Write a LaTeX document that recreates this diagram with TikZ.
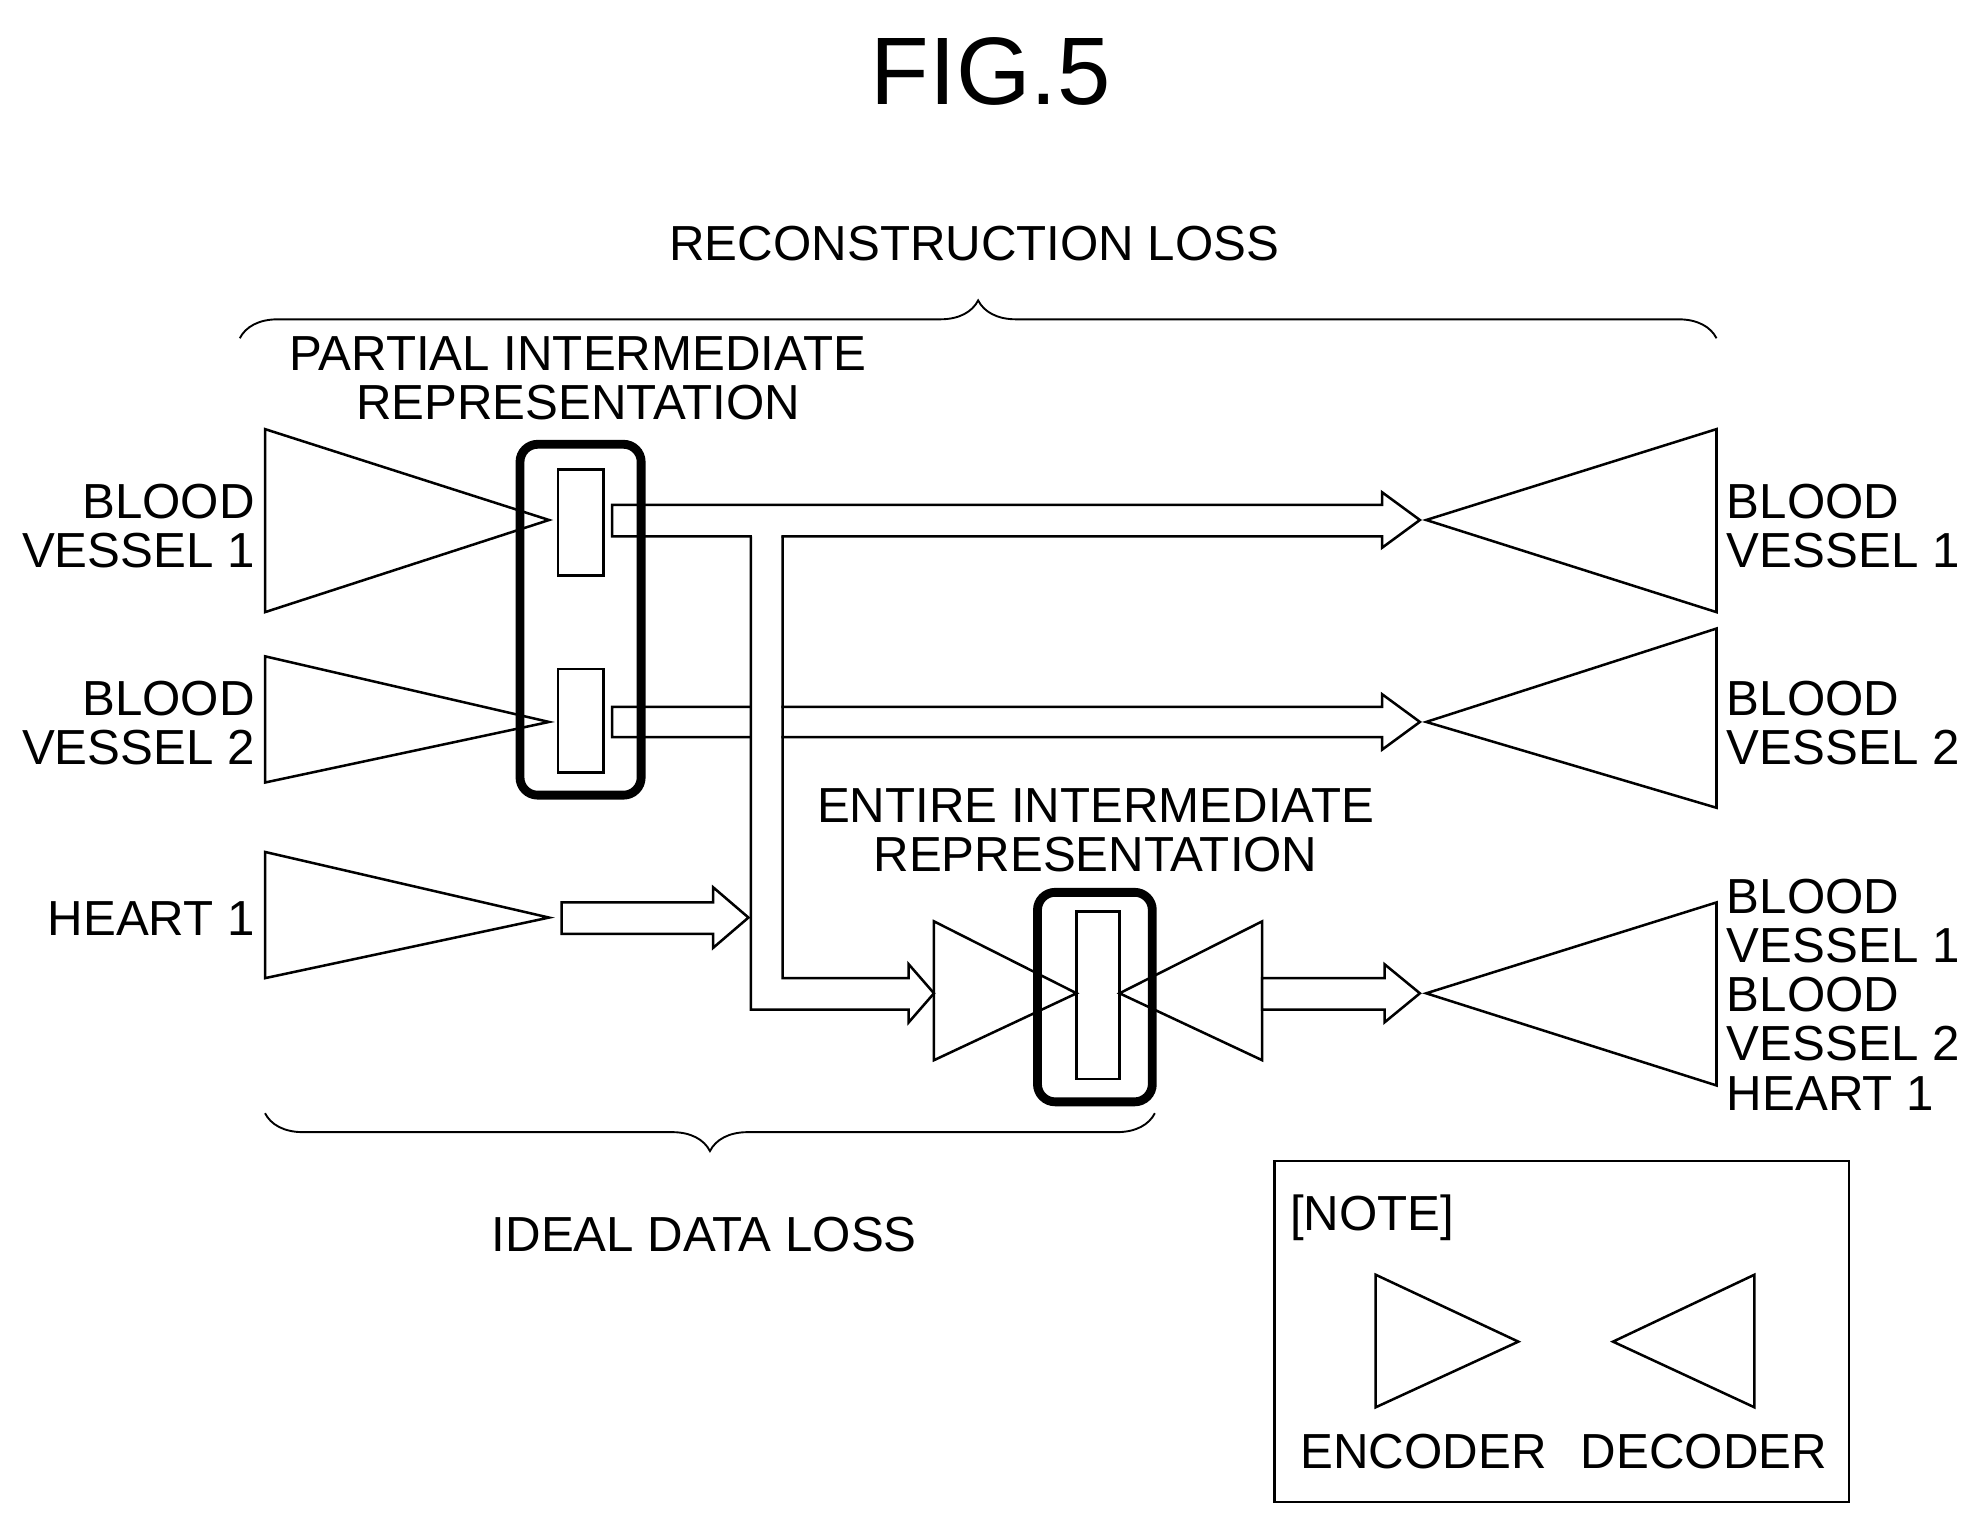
\documentclass[tikz,border=0pt]{standalone}
\usepackage{fontspec}
\setmainfont{Liberation Sans}
\usetikzlibrary{decorations.pathreplacing}
\begin{document}
\begin{tikzpicture}[x=1pt,y=-1pt,
  thin line/.style={line width=2pt,line join=miter},
  thick box/.style={line width=7pt,rounded corners=14pt},
  lbl/.style={font=\fontsize{39}{40}\selectfont,inner sep=0pt},
  brc/.style={line width=1.5pt,decorate,decoration={brace,amplitude=30pt}}]
\useasboundingbox (0,0) rectangle (1568,1208);
\node[font=\fontsize{76}{78}\selectfont] (title) at (785,57) {FIG.5};
% braces
\draw[brc] (190,268) -- (1360,268);
\node[lbl] (rl) at (772,193) {RECONSTRUCTION LOSS};
\draw[brc] (915,882) -- (210,882);
\node[lbl] (idl) at (558,978) {IDEAL DATA LOSS};
\node[lbl,align=center] (pir) at (458,300) {PARTIAL INTERMEDIATE\\[-1pt]REPRESENTATION};
\node[lbl,align=center] (eir) at (868,658) {ENTIRE INTERMEDIATE\\[-1pt]REPRESENTATION};
% left encoders
\draw[thin line] (210,340) -- (435,412) -- (210,485) -- cycle;
\draw[thin line] (210,520) -- (435,572) -- (210,620) -- cycle;
\draw[thin line] (210,675) -- (435,727) -- (210,775) -- cycle;
\node[lbl,align=right,anchor=east] (lbv1) at (202,417) {BLOOD\\[-1pt]VESSEL 1};
\node[lbl,align=right,anchor=east] (lbv2) at (202,573) {BLOOD\\[-1pt]VESSEL 2};
\node[lbl,anchor=east] (lh1) at (202,728) {HEART 1};
% right decoders
\draw[thin line] (1360,340) -- (1130,412) -- (1360,485) -- cycle;
\draw[thin line] (1360,498) -- (1130,572) -- (1360,640) -- cycle;
\draw[thin line] (1360,715) -- (1130,787) -- (1360,860) -- cycle;
\node[lbl,align=left,anchor=west] (rbv1) at (1368,417) {BLOOD\\[-1pt]VESSEL 1};
\node[lbl,align=left,anchor=west] (rbv2) at (1368,573) {BLOOD\\[-1pt]VESSEL 2};
\node[lbl,align=left,anchor=west] (rall) at (1368,788) {BLOOD\\[-1pt]VESSEL 1\\[-1pt]BLOOD\\[-1pt]VESSEL 2\\[-1pt]HEART 1};
% hollow arrows
\draw[thin line,fill=white] (485,400) -- (1095,400) -- (1095,390) -- (1125,412) -- (1095,434) -- (1095,425) -- (485,425) -- cycle;
\draw[thin line,fill=white] (485,560) -- (1095,560) -- (1095,550) -- (1125,572) -- (1095,594) -- (1095,584) -- (485,584) -- cycle;
\draw[thin line,fill=white] (445,715) -- (565,715) -- (565,703) -- (593,727) -- (565,751) -- (565,740) -- (445,740) -- cycle;
\fill[white] (596,423) -- (596,799) -- (720,799) -- (720,776) -- (619,776) -- (619,423) -- cycle;
\draw[thin line] (595,425) -- (595,800) -- (720,800) -- (720,810) -- (740,787) -- (720,764) -- (720,775) -- (620,775) -- (620,425);
% entire representation
\draw[thin line] (740,730) -- (853,787) -- (740,840) -- cycle;
\draw[thin line] (1000,730) -- (887,787) -- (1000,840) -- cycle;
\draw[thin line,fill=white] (1000,775) -- (1097,775) -- (1097,764) -- (1125,787) -- (1097,810) -- (1097,800) -- (1000,800) -- cycle;
\draw[thin line] (853,722) rectangle (887,855);
\draw[thick box] (822,707) rectangle (913,873);
% partial representation
\draw[thin line] (442,372) rectangle (478,456);
\draw[thin line] (442,530) rectangle (478,612);
\draw[thick box] (412,352) rectangle (508,630);
% note
\draw[thin line] (1010,920) rectangle (1465,1190);
\node[lbl,anchor=west] (note) at (1022,965) {[NOTE]};
\draw[thin line] (1090,1010) -- (1203,1063) -- (1090,1115) -- cycle;
\draw[thin line] (1390,1010) -- (1278,1063) -- (1390,1115) -- cycle;
\node[lbl] (enc) at (1128,1150) {ENCODER};
\node[lbl] (dec) at (1350,1150) {DECODER};
\end{tikzpicture}
\end{document}
